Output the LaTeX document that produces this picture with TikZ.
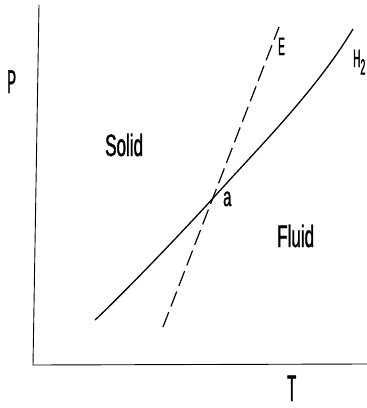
\documentclass[tikz,border=0pt]{standalone}
\usepackage{fontspec}
\newfontfamily\narrowfont[FakeStretch=0.4,FakeBold=1.2]{Liberation Sans}
\newfontfamily\condfont[FakeStretch=0.55,FakeBold=1.2]{Liberation Sans}
\usetikzlibrary{positioning}

\begin{document}
\begin{tikzpicture}[x=1pt,y=-1pt]
          \tikzstyle{every node}=[inner sep=0pt,anchor=base west]
          \tikzstyle{bigcap}=[font=\narrowfont\fontsize{33}{33}\selectfont]
          \tikzstyle{smallcap}=[font=\narrowfont\fontsize{25}{25}\selectfont]
          \tikzstyle{region}=[font=\condfont\fontsize{31}{31}\selectfont]
          \tikzstyle{axis}=[line width=0.9pt]
          \tikzstyle{melting}=[line width=1.3pt]
          \tikzstyle{eutectic}=[line width=1.2pt,dash pattern=on 16pt off 6pt]

      \useasboundingbox (0,0) rectangle (367,408);

      \coordinate (ptop) at (39,5);
      \coordinate (origin) at (33,365);
      \coordinate (tend) at (367,364);
      \draw[axis] (ptop) -- (origin) -- (tend);

      \coordinate (a) at (215,196);
      \coordinate (hlow) at (95,320);
      \coordinate (hhigh) at (353,29);
      \coordinate (elow) at (163,327);
      \coordinate (ehigh) at (279,27);

      \draw[melting] (hlow) .. controls (124,293) and (188,226) .. (a)
                            .. controls (262,144) and (317,89) .. (hhigh);
      \draw[eutectic] (elow) -- (ehigh);

      \node[bigcap] (plabel) at (7,93) {P};
      \node[bigcap,font=\narrowfont\fontsize{37}{37}\selectfont] (tlabel) at (287,401) {T};
      \node[region] (solid) at (105,156) {Solid};
      \node[region] (fluid) at (277,247) {Fluid};
      \node[region,font=\condfont\fontsize{27}{27}\selectfont] (alabel) at (223,206) {a};
      \node[smallcap] (elabel) at (278,55) {E};
      \node[smallcap] (hlabel) at (353,67) {H\raisebox{-0.3em}{\fontsize{22}{22}\selectfont 2}};

\end{tikzpicture}
\end{document}
